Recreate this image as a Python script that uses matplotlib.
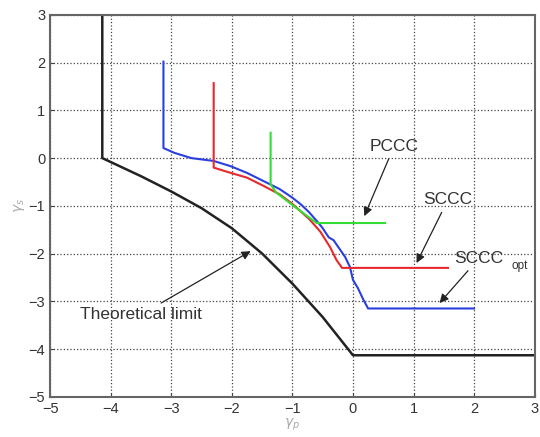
import matplotlib
matplotlib.use("Agg")
import matplotlib.pyplot as plt

plt.rcParams.update({"font.size": 10, "font.family": "Liberation Sans"})

# theoretical limit
limit_x = [-4.14, -4.14, -3.5, -3.0, -2.5, -2.0, -1.5, -1.0, -0.5, 0.0, 3.0]
limit_y = [3.0, 0.0, -0.38, -0.7, -1.05, -1.47, -2.0, -2.63, -3.33, -4.13, -4.13]

# SCCC_opt (blue)
opt_x = [-3.13, -3.13, -2.95, -2.67, -2.3, -2.02, -1.75, -1.48, -1.21, -1.0, -0.86,
         -0.72, -0.59, -0.51, -0.4, -0.32, -0.13, -0.05, 0.0, 0.08, 0.17, 0.25, 2.0]
opt_y = [2.02, 0.21, 0.11, 0.0, -0.06, -0.17, -0.31, -0.48, -0.65, -0.83, -0.97,
         -1.14, -1.33, -1.45, -1.66, -1.72, -2.07, -2.28, -2.55, -2.72, -2.96, -3.15, -3.15]

# SCCC (red)
sccc_x = [-2.3, -2.3, -2.02, -1.75, -1.48, -1.21, -1.0, -0.72, -0.54, -0.38, -0.27, -0.18, 1.57]
sccc_y = [1.57, -0.2, -0.31, -0.41, -0.58, -0.76, -0.96, -1.28, -1.54, -1.86, -2.14, -2.3, -2.3]

# PCCC (green)
pccc_x = [-1.36, -1.36, -1.27, -0.94, -0.6, 0.53]
pccc_y = [0.53, -0.55, -0.72, -1.04, -1.36, -1.36]

fig = plt.figure(figsize=(5.4, 4.37), dpi=100)
ax = fig.add_axes([0.093, 0.092, 0.897, 0.874])

ax.plot(limit_x, limit_y, color="#222222", lw=1.8)
ax.plot(opt_x, opt_y, color="#2a3fe0", lw=1.5)
ax.plot(sccc_x, sccc_y, color="#e8282a", lw=1.5)
ax.plot(pccc_x, pccc_y, color="#33dd33", lw=1.5)

arrow = dict(arrowstyle="-|>", color="#222222", lw=0.9, mutation_scale=13)
ax.annotate("PCCC", xy=(0.17, -1.27), xytext=(0.68, 0.25), ha="center",
            va="center", fontsize=12.5, color="#333333", arrowprops=arrow)
ax.annotate("SCCC", xy=(1.03, -2.25), xytext=(1.57, -0.87), ha="center",
            va="center", fontsize=12.5, color="#333333", arrowprops=arrow)
ax.annotate("SCCC", xy=(1.40, -3.08), xytext=(2.08, -2.1), ha="center",
            va="center", fontsize=12.5, color="#333333", arrowprops=arrow)
ax.text(2.62, -2.27, "opt", ha="left", va="center", fontsize=8.5, color="#333333")
ax.annotate("Theoretical limit", xy=(-1.65, -1.92), xytext=(-3.5, -3.28), ha="center",
            va="center", fontsize=12.5, color="#333333", arrowprops=arrow)

ax.set_xlim(-5, 3)
ax.set_ylim(-5, 3)
ax.set_xticks(range(-5, 4))
ax.set_yticks(range(-5, 4))
ax.grid(True, color="#444444", linestyle=":", lw=0.9)
ax.tick_params(direction="in", colors="#444444", labelcolor="#333333", length=3, labelsize=10.5)
for s in ax.spines.values():
    s.set_color("#666666")
    s.set_linewidth(1.5)

ax.set_xlabel("$\\gamma_p$", color="#aaaaaa", labelpad=1)
ax.set_ylabel("$\\gamma_s$", color="#aaaaaa", labelpad=1)

fig.savefig("out.png", dpi=100)
